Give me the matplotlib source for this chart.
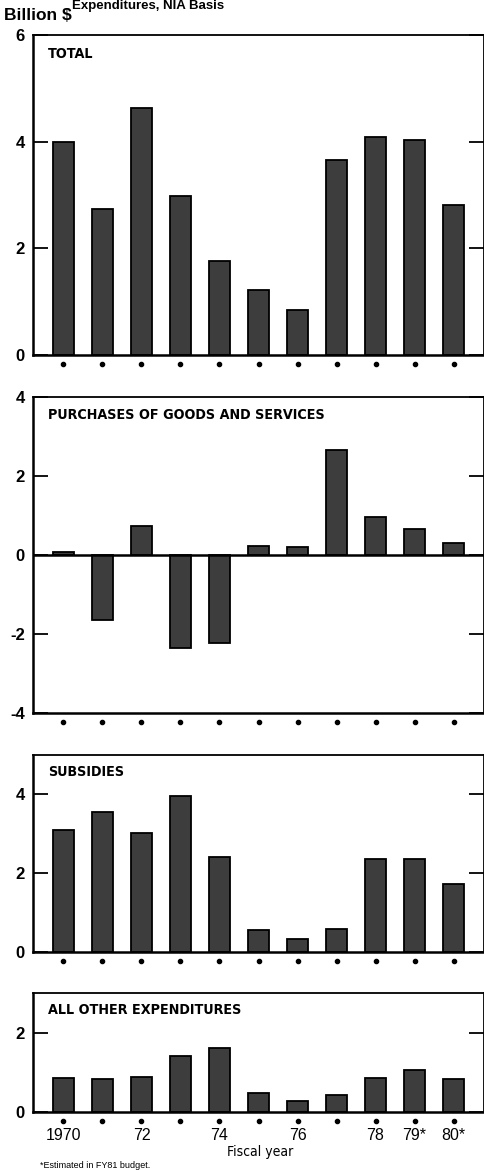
#!/usr/bin/env python3

import matplotlib
matplotlib.use("Agg")
import matplotlib.pyplot as plt
import matplotlib.transforms as mtransforms
import numpy as np

years = ["1970", "71", "72", "73", "74", "75", "76", "77", "78", "79*", "80*"]
year_labels = ["1970", "", "72", "", "74", "", "76", "", "78", "79*", "80*"]

total = [4.0, 2.74, 4.63, 2.99, 1.76, 1.22, 0.85, 3.65, 4.08, 4.03, 2.82]
purchases = [0.08, -1.65, 0.73, -2.36, -2.24, 0.23, 0.21, 2.66, 0.95, 0.65, 0.31]
subsidies = [3.09, 3.55, 3.03, 3.96, 2.40, 0.56, 0.32, 0.58, 2.36, 2.36, 1.73]
all_other = [0.85, 0.83, 0.89, 1.42, 1.61, 0.47, 0.27, 0.43, 0.85, 1.06, 0.83]

panel_titles = ["TOTAL", "PURCHASES OF GOODS AND SERVICES", "SUBSIDIES",
                "ALL OTHER EXPENDITURES"]
panel_values = [total, purchases, subsidies, all_other]
panel_ylims = [(0, 6), (-4, 4), (0, 5), (0, 3)]
panel_yticks = [[0, 2, 4, 6], [-4, -2, 0, 2, 4], [0, 2, 4], [0, 2]]

W, H = 485, 1170
# (top, bottom) of each frame, in pixels from the top of the image
frames = [(35, 355), (397, 713), (755, 952), (993, 1112)]
left_px, right_px = 33, 484
title_y = [54, 415, 772, 1010]

cond = dict(family="DejaVu Sans", stretch="condensed", weight="bold")
num_font = dict(family="Liberation Sans", weight="bold")


def main():
  fig = plt.figure(figsize=(W / 100, H / 100), dpi=100)
  x = np.arange(len(years))

  axes = []
  for (top, bot) in frames:
    ax = fig.add_axes([left_px / W, 1 - bot / H, (right_px - left_px) / W, (bot - top) / H])
    axes.append(ax)

  for i, ax in enumerate(axes):
    vals = panel_values[i]
    ax.bar(x, vals, width=0.54, color="#3d3d3d", edgecolor="black",
           linewidth=1.3, zorder=2)
    ax.set_xlim(-0.78, 10.78)
    ax.set_ylim(*panel_ylims[i])
    ax.set_yticks(panel_yticks[i])
    ax.set_yticklabels([str(t) for t in panel_yticks[i]], fontsize=12, **num_font)
    ax.tick_params(axis="y", direction="in", length=11, width=1.3,
                   left=True, right=True, pad=6)
    ax.set_xticks([])
    for s in ax.spines.values():
      s.set_linewidth(1.3)
    ax.spines["left"].set_linewidth(1.8)
    ax.spines["bottom"].set_linewidth(1.8)
    if panel_ylims[i][0] < 0:
      ax.axhline(0, color="black", linewidth=1.8, zorder=3)

    # small dots under each bar
    trans = mtransforms.offset_copy(ax.get_xaxis_transform(), fig=fig,
                                    y=-6.5, units="points")
    ax.plot(x, np.zeros(len(x)), "o", color="black", markersize=3,
            transform=trans, clip_on=False)

    fig.text(48 / W, 1 - title_y[i] / H, panel_titles[i], fontsize=10.3,
             va="center", ha="left", **cond)

  # year labels under the last panel
  last = axes[-1]
  lab_trans = mtransforms.offset_copy(last.get_xaxis_transform(), fig=fig,
                                      y=-17, units="points")
  for xi, lab in zip(x, year_labels):
    if lab:
      last.text(xi, 0, lab, transform=lab_trans, ha="center", va="center",
                fontsize=11.5, family="Liberation Sans")

  fig.text(260 / W, 1 - 1152 / H, "Fiscal year", ha="center", va="center",
           fontsize=10, family="DejaVu Sans", stretch="condensed")
  fig.text(4 / W, 1 - 16 / H, "Billion $", ha="left", va="center",
           fontsize=12.5, **num_font)
  fig.text(72 / W, 1 - 0.5 / H, "Expenditures, NIA Basis", ha="left",
           va="top", fontsize=9.5, **num_font)
  fig.text(40 / W, 1 - 1169.5 / H, "*Estimated in FY81 budget.", ha="left",
           va="bottom", fontsize=6.5, family="Liberation Sans")

  fig.savefig("out.png", dpi=100)


if __name__ == '__main__':
  main()
